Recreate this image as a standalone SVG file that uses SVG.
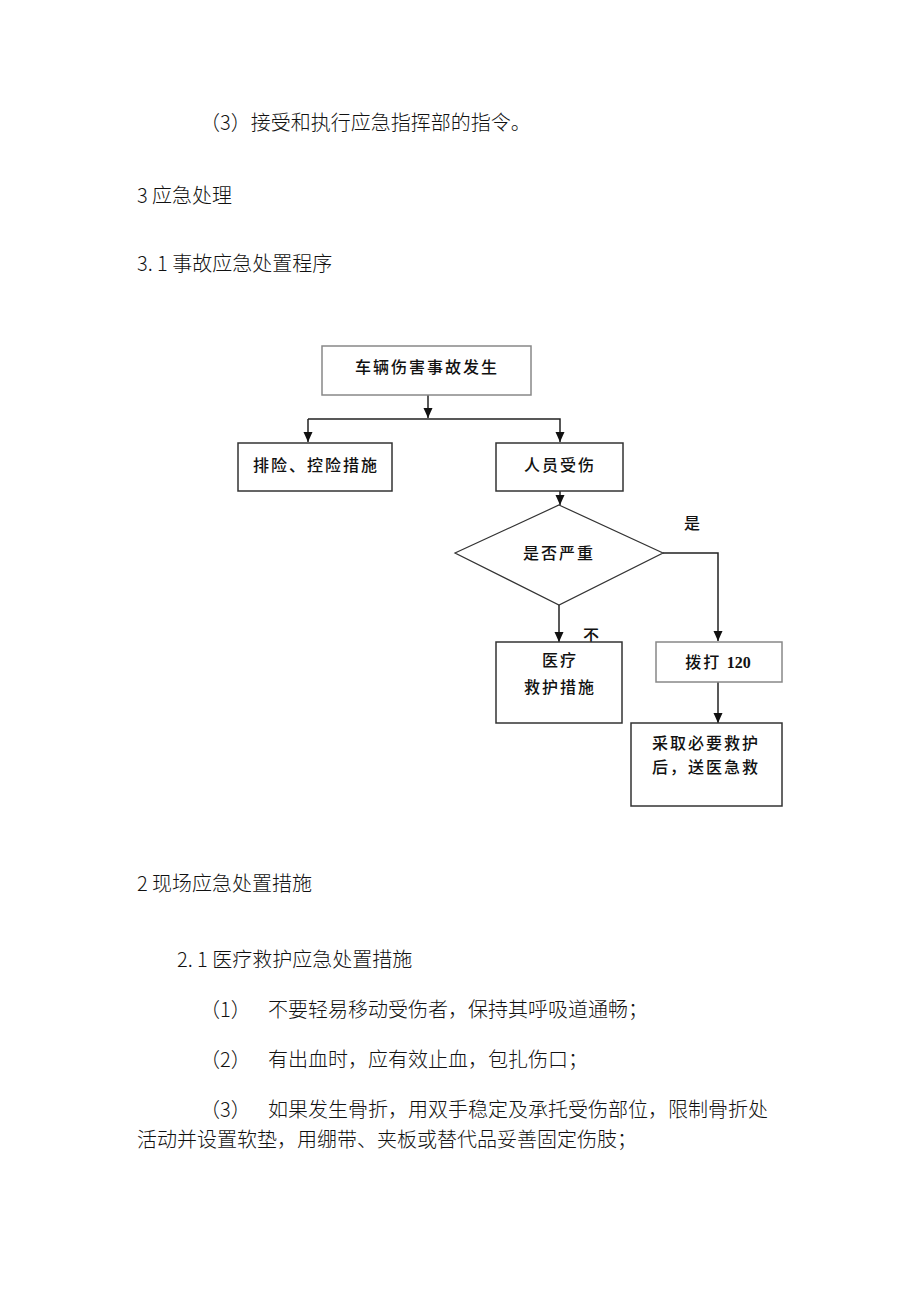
<svg xmlns="http://www.w3.org/2000/svg" width="920" height="1302" viewBox="0 0 920 1302">
<style>
.body{font-family:"Noto Sans CJK SC","Liberation Serif",serif;font-size:20px;fill:#111;font-weight:300}
.nt{font-family:"Noto Sans CJK SC","Liberation Sans",sans-serif;font-size:16px;fill:#111;font-weight:500;letter-spacing:2px}
.box{fill:#fff;stroke:#333;stroke-width:1.5}
.con{fill:none;stroke:#222;stroke-width:1.5}
</style>
<defs>
<marker id="ah" markerWidth="11" markerHeight="11" refX="10" refY="5.5" orient="auto" markerUnits="userSpaceOnUse">
<path d="M0,1 L10,5.5 L0,10 Z" fill="#111"/>
</marker>
</defs>
<rect width="920" height="1302" fill="#fff"/>
<g id="text-body">
<text class="body" x="200" y="130">（3）接受和执行应急指挥部的指令。</text>
<text class="body" x="137" y="203">3 应急处理</text>
<text class="body" x="137" y="271">3. 1 事故应急处置程序</text>
<text class="body" x="137" y="891">2 现场应急处置措施</text>
<text class="body" x="177" y="967">2. 1 医疗救护应急处置措施</text>
<text class="body" x="200" y="1017">（1）</text>
<text class="body" x="268" y="1017">不要轻易移动受伤者，保持其呼吸道通畅；</text>
<text class="body" x="200" y="1067">（2）</text>
<text class="body" x="268" y="1067">有出血时，应有效止血，包扎伤口；</text>
<text class="body" x="200" y="1117">（3）</text>
<text class="body" x="268" y="1117">如果发生骨折，用双手稳定及承托受伤部位，限制骨折处</text>
<text class="body" x="137" y="1147">活动并设置软垫，用绷带、夹板或替代品妥善固定伤肢；</text>
</g>
<g id="connectors">
<line class="con" x1="428" y1="395" x2="428" y2="418" marker-end="url(#ah)"/>
<polyline class="con" points="308,419 560,419 560,442" marker-end="url(#ah)"/>
<line class="con" x1="308" y1="419" x2="308" y2="442" marker-end="url(#ah)"/>
<line class="con" x1="560" y1="491" x2="560" y2="505" marker-end="url(#ah)"/>
<line class="con" x1="559" y1="605" x2="559" y2="642" marker-end="url(#ah)"/>
<polyline class="con" points="663,553 718,553 718,641" marker-end="url(#ah)"/>
<line class="con" x1="718" y1="682" x2="718" y2="723" marker-end="url(#ah)"/>
<text class="nt" x="684" y="529">是</text>
<text class="nt" x="583" y="641" font-size="17">不</text>
</g>
<g id="n1">
<rect x="322" y="346" width="209" height="49" fill="#fff" stroke="#888" stroke-width="1.5"/>
<text class="nt" x="427" y="373" text-anchor="middle">车辆伤害事故发生</text>
</g>
<g id="n2">
<rect class="box" x="238" y="443" width="154" height="48"/>
<text class="nt" x="316" y="471" text-anchor="middle">排险、控险措施</text>
</g>
<g id="n3">
<rect class="box" x="496" y="443" width="127" height="48"/>
<text class="nt" x="560" y="471" text-anchor="middle">人员受伤</text>
</g>
<g id="n4">
<polygon points="559,505 663,553 559,605 455,553" fill="#fff" stroke="#333" stroke-width="1.2"/>
<text class="nt" x="559" y="559" text-anchor="middle">是否严重</text>
</g>
<g id="n5">
<rect class="box" x="496" y="642" width="126" height="81"/>
<text class="nt" x="560" y="666" text-anchor="middle">医疗</text>
<text class="nt" x="560" y="693" text-anchor="middle">救护措施</text>
</g>
<g id="n6">
<rect x="656" y="642" width="126" height="40" fill="#fff" stroke="#888" stroke-width="1.5"/>
<text class="nt" x="718" y="668" text-anchor="middle">拨打 <tspan font-family="Liberation Serif" font-weight="700" letter-spacing="0">120</tspan></text>
</g>
<g id="n7">
<rect class="box" x="631" y="723" width="151" height="83"/>
<text class="nt" x="652" y="749">采取必要救护</text>
<text class="nt" x="652" y="773">后，送医急救</text>
</g>
</svg>
